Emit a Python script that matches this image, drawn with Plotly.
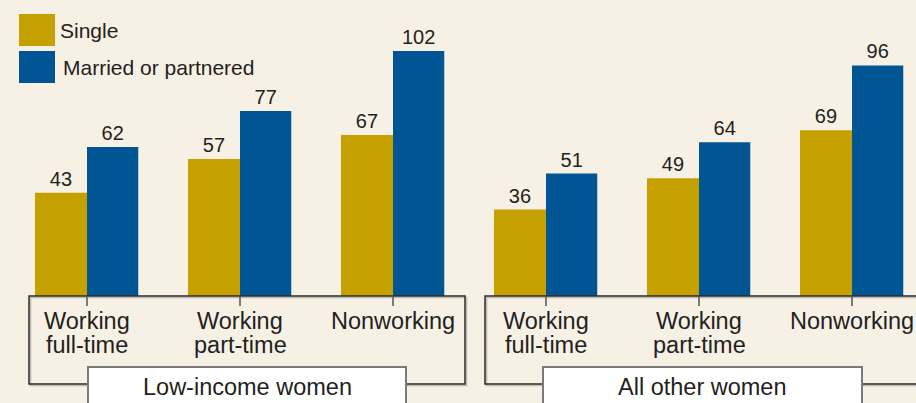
import plotly.graph_objects as go

categories = ["Working<br>full-time", "Working<br>part-time", "Nonworking",
              "Working<br>full-time", "Working<br>part-time", "Nonworking"]
groups = ["Low-income women", "All other women"]
single = [43, 57, 67, 36, 49, 69]
married = [62, 77, 102, 51, 64, 96]
series_names = ["Single", "Married or partnered"]

GOLD = "#C4A000"
BLUE = "#005592"
BG = "#F7F0E5"
TXT = "#231F20"
FONT = "Liberation Sans, Arial, Helvetica, sans-serif"

W, H = 916, 403
PX_PER_CAT = 153.0
X0_PX = 87.0
BASE_PX = 296.0
PX_PER_UNIT = 2.402

xr = [(0 - X0_PX) / PX_PER_CAT, (W - X0_PX) / PX_PER_CAT]
yr = [-(H - BASE_PX) / PX_PER_UNIT, BASE_PX / PX_PER_UNIT]

def px2x(px):
    return (px - X0_PX) / PX_PER_CAT

def py2y(py):
    return (BASE_PX - py) / PX_PER_UNIT

xs = list(range(len(categories)))

fig = go.Figure()
fig.add_trace(go.Bar(x=xs, y=single, name=series_names[0], marker_color=GOLD,
                     marker_line_width=0, offset=-0.34, width=0.34,
                     text=[str(v) for v in single], textposition="outside",
                     textfont=dict(size=20, color=TXT, family=FONT),
                     cliponaxis=False, showlegend=False))
fig.add_trace(go.Bar(x=xs, y=married, name=series_names[1], marker_color=BLUE,
                     marker_line_width=0, offset=0.0, width=0.335,
                     text=[str(v) for v in married], textposition="outside",
                     textfont=dict(size=20, color=TXT, family=FONT),
                     cliponaxis=False, showlegend=False))

shapes = []
annotations = []
LINE = "#2B2B2B"
SHADOW = "rgba(120,120,120,0.45)"

panels = [
    dict(left=px2x(29), right=px2x(465), cats=[0, 1, 2], box=(px2x(88), px2x(406)), label=groups[0]),
    dict(left=px2x(485), right=px2x(925), cats=[3, 4, 5], box=(px2x(543), px2x(862)), label=groups[1]),
]
ybot = py2y(384)
ytick = py2y(306)
for p in panels:
    shapes.append(dict(type="rect", xref="x", yref="y", x0=p["left"] + 1.5 / PX_PER_CAT,
                       x1=p["right"] + 1.5 / PX_PER_CAT, y0=ybot - 1.5 / PX_PER_UNIT,
                       y1=0 - 1.5 / PX_PER_UNIT, line=dict(color=SHADOW, width=1.5),
                       fillcolor="rgba(0,0,0,0)", layer="above"))
    shapes.append(dict(type="rect", xref="x", yref="y", x0=p["left"], x1=p["right"],
                       y0=ybot, y1=0, line=dict(color=LINE, width=1.5),
                       fillcolor="rgba(0,0,0,0)", layer="above"))
    for c in p["cats"]:
        shapes.append(dict(type="line", xref="x", yref="y", x0=c, x1=c, y0=0, y1=ytick,
                           line=dict(color="#555555", width=1.5), layer="above"))
    bx0, bx1 = p["box"]
    shapes.append(dict(type="rect", xref="x", yref="y", x0=bx0, x1=bx1,
                       y0=py2y(420), y1=py2y(367), line=dict(color="#7A7A7A", width=2),
                       fillcolor="white", layer="above"))
    annotations.append(dict(x=(bx0 + bx1) / 2, y=py2y(387), xref="x", yref="y",
                            text=p["label"], showarrow=False,
                            font=dict(size=23.5, color=TXT, family=FONT),
                            xanchor="center", yanchor="middle"))

for i, cat in enumerate(categories):
    lines = cat.split("<br>")
    for j, ln in enumerate(lines):
        annotations.append(dict(x=i, y=py2y(321 + 24 * j), xref="x", yref="y", text=ln,
                                showarrow=False, font=dict(size=23.5, color=TXT, family=FONT),
                                xanchor="center", yanchor="middle"))

leg = [(series_names[0], GOLD, 14, 46, 58), (series_names[1], BLUE, 51, 83, 61)]
for name, col, t, b, tx in leg:
    shapes.append(dict(type="rect", xref="paper", yref="paper", x0=19 / W, x1=55 / W,
                       y0=1 - b / H, y1=1 - t / H, line=dict(width=0), fillcolor=col))
    annotations.append(dict(x=tx / W, y=1 - ((t + b) / 2) / H, xref="paper", yref="paper",
                            text=name, showarrow=False,
                            font=dict(size=21, color=TXT, family=FONT),
                            xanchor="left", yanchor="middle"))

fig.update_layout(
    width=W, height=H,
    margin=dict(l=0, r=0, t=0, b=0),
    paper_bgcolor=BG, plot_bgcolor=BG,
    barmode="overlay",
    xaxis=dict(range=xr, visible=False, fixedrange=True),
    yaxis=dict(range=yr, visible=False, fixedrange=True),
    shapes=shapes, annotations=annotations,
    showlegend=False,
)

fig.write_html("out.html", config={"displayModeBar": False},
               post_script="document.body.style.margin='0';document.body.style.overflow='hidden';")
